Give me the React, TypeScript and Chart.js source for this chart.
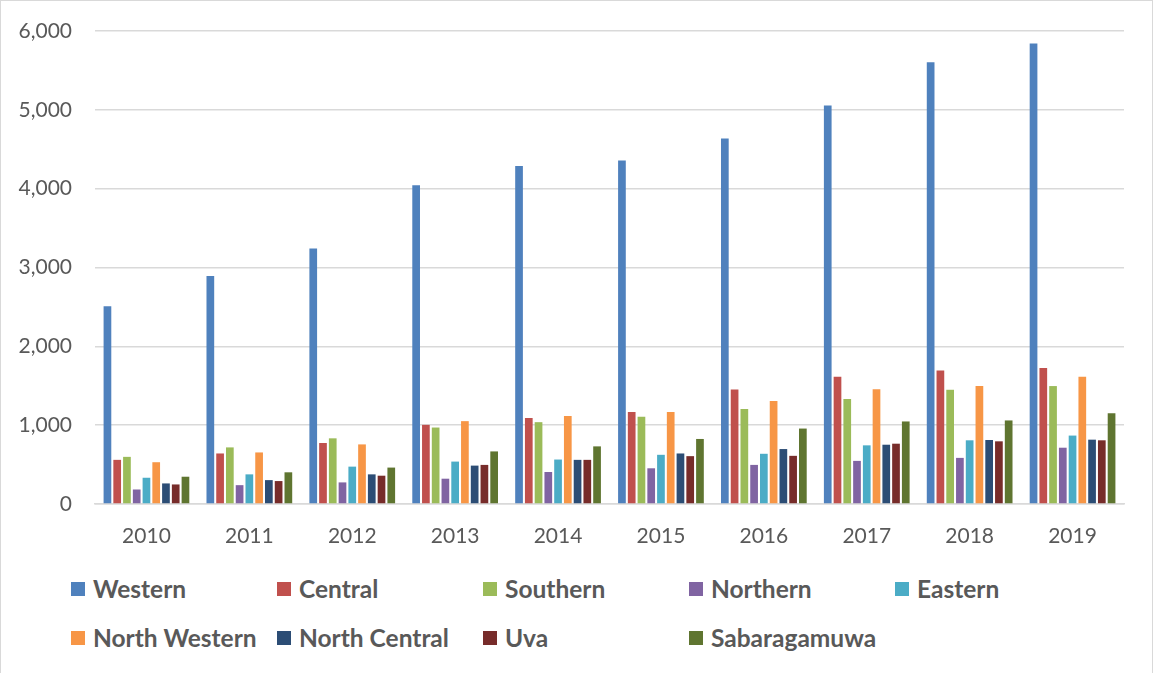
import React, { useEffect, useRef } from "react";
import { Chart, registerables } from "chart.js";

Chart.register(...registerables);

const years = ["2010", "2011", "2012", "2013", "2014", "2015", "2016", "2017", "2018", "2019"];
const western = [2510, 2892, 3242, 4042, 4288, 4356, 4636, 5056, 5603, 5843];
const central = [560, 641, 774, 1004, 1090, 1167, 1453, 1615, 1692, 1726];
const southern = [598, 718, 833, 970, 1038, 1107, 1205, 1333, 1449, 1496];
const northern = [184, 239, 274, 321, 406, 453, 496, 547, 585, 714];
const eastern = [333, 376, 474, 538, 564, 624, 637, 744, 808, 868];
const northWestern = [530, 654, 756, 1051, 1115, 1167, 1308, 1457, 1496, 1615];
const northCentral = [261, 303, 376, 487, 560, 641, 697, 752, 812, 816];
const uva = [248, 291, 359, 496, 560, 607, 611, 765, 795, 808];
const sabaragamuwa = [346, 402, 462, 667, 731, 825, 957, 1047, 1060, 1150];

const seriesNames = ["Western", "Central", "Southern", "Northern", "Eastern", "North Western", "North Central", "Uva", "Sabaragamuwa"];
const seriesData = [western, central, southern, northern, eastern, northWestern, northCentral, uva, sabaragamuwa];
const seriesColors = ["#4F81BD", "#C0504D", "#9BBB59", "#8064A2", "#4BACC6", "#F79646", "#2C4D75", "#772C2A", "#5F7530"];
const yTicks = [0, 1000, 2000, 3000, 4000, 5000, 6000];

const legendCols = [71, 277, 483, 689, 895];
const legendRows = [589, 638];

export default function App() {
  const canvasRef = useRef<HTMLCanvasElement | null>(null);

  useEffect(() => {
    document.body.style.margin = "0";
    const ctx = canvasRef.current!.getContext("2d")!;
    const chart = new Chart(ctx, {
      type: "bar",
      data: {
        labels: years,
        datasets: seriesNames.map((name, i) => ({
          label: name,
          data: seriesData[i],
          backgroundColor: seriesColors[i],
          borderWidth: 0,
          categoryPercentage: 0.853,
          barPercentage: 0.79,
        })),
      },
      options: {
        animation: false,
        responsive: false,
        maintainAspectRatio: false,
        layout: { padding: { left: 0, right: 29, top: 31, bottom: 0 } },
        plugins: { legend: { display: false }, tooltip: { enabled: false } },
        scales: {
          x: {
            grid: { display: false, drawTicks: false },
            border: { display: true, color: "#d9d9d9", width: 1.5 },
            ticks: {
              color: "#595959",
              font: { family: "Lato", size: 21 },
              padding: 20,
              maxRotation: 0,
            },
            afterFit: (scale: any) => {
              scale.height = 56;
            },
          },
          y: {
            min: 0,
            max: 6000,
            afterBuildTicks: (scale: any) => {
              scale.ticks = yTicks.map((v) => ({ value: v }));
            },
            grid: {
              color: "#d9d9d9",
              lineWidth: 1.5,
              drawTicks: true,
              tickLength: 23,
              tickColor: "rgba(0,0,0,0)",
            },
            border: { display: false },
            ticks: {
              color: "#595959",
              font: { family: "Lato", size: 21 },
              padding: 0,
              callback: (v: any) => Number(v).toLocaleString("en-US"),
            },
            afterFit: (scale: any) => {
              scale.width = 95;
            },
          },
        },
      },
    });
    return () => chart.destroy();
  }, []);

  return (
    <div
      style={{
        position: "fixed",
        left: 0,
        top: 0,
        width: 1153,
        height: 673,
        background: "#fff",
        overflow: "hidden",
      }}
    >
      <div
        style={{
          position: "absolute",
          left: 0,
          top: 0,
          width: 1151,
          height: 700,
          border: "1px solid #d9d9d9",
        }}
      />
      <canvas
        ref={canvasRef}
        width={1153}
        height={560}
        style={{ position: "absolute", left: 0, top: 0, width: 1153, height: 560 }}
      />
      {seriesNames.map((name, i) => {
        const row = i < 5 ? 0 : 1;
        const col = i < 5 ? i : i - 5;
        const cy = legendRows[row];
        const x = legendCols[col];
        return (
          <div key={name}>
            <div
              style={{
                position: "absolute",
                left: x,
                top: cy - 7,
                width: 14,
                height: 14,
                background: seriesColors[i],
              }}
            />
            <div
              style={{
                position: "absolute",
                left: x + 22,
                top: cy - 15,
                height: 30,
                lineHeight: "30px",
                fontFamily: "Lato",
                fontWeight: 700,
                fontSize: 24.5,
                color: "#595959",
                whiteSpace: "nowrap",
              }}
            >
              {name}
            </div>
          </div>
        );
      })}
    </div>
  );
}
